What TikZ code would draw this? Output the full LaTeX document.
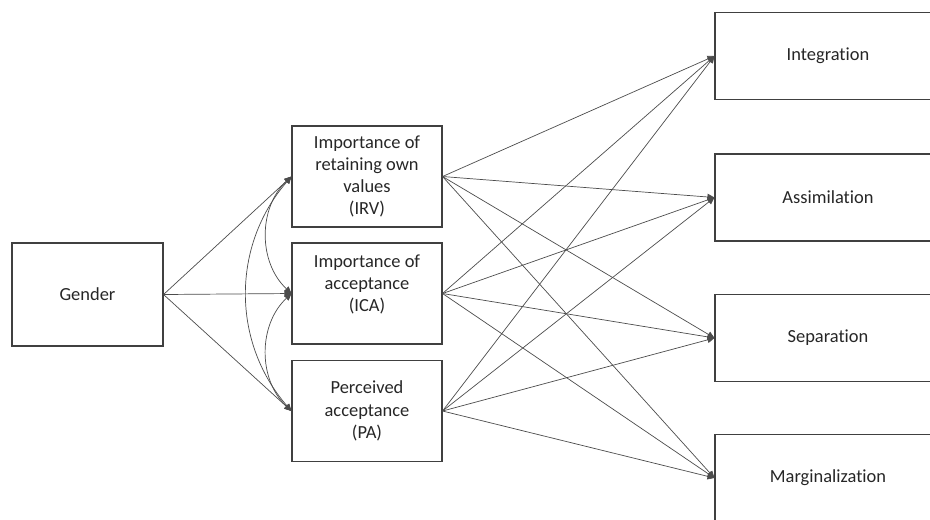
\documentclass[tikz,border=0pt]{standalone}
\usepackage{fontspec}
\setmainfont[Ligatures=NoCommon]{Carlito}
\usetikzlibrary{arrows.meta}

\begin{document}
\begin{tikzpicture}[
  box/.style={draw=black!75,line width=0.6pt,align=center,text=black!85,font=\fontsize{10.5}{12.6}\selectfont},
  midbox/.style={box,minimum width=3cm,minimum height=2.02cm},
  outbox/.style={box,minimum width=4.52cm,minimum height=1.74cm},
  link/.style={-{Triangle[length=4pt,width=3.6pt]},draw=black!70,line width=0.4pt},
  cov/.style={{Triangle[length=4pt,width=3.6pt]}-{Triangle[length=4pt,width=3.6pt]},draw=black!70,line width=0.4pt}]
\useasboundingbox (0,0) rectangle (18.6,-10.38);
% left and middle column
\node[box,minimum width=3.02cm,minimum height=2.06cm] (gender) at (1.75,-5.89) {Gender};
\node[midbox] (irv) at (7.34,-3.53) {Importance of\\retaining own\\values\\(IRV)};
\node[midbox,text depth=12pt] (ica) at (7.34,-5.87) {Importance of\\acceptance\\(ICA)};
\node[midbox] (pa) at (7.34,-8.22) {Perceived\\acceptance\\(PA)};
% outcomes
\node[outbox] (integ) at (16.56,-1.12) {Integration};
\node[outbox] (assim) at (16.56,-3.95) {Assimilation};
\node[outbox] (separ) at (16.56,-6.76) {Separation};
\node[outbox] (margi) at (16.56,-9.56) {Marginalization};
% paths
\draw[link] (gender.east) -- (irv.west);
\draw[link] (gender.east) -- (ica.west);
\draw[link] (gender.east) -- (pa.west);
\draw[cov] (irv.west) to[bend right=47] (ica.west);
\draw[cov] (ica.west) to[bend right=47] (pa.west);
\draw[cov] (irv.west) to[bend right=41] (pa.west);
\foreach \src in {irv,ica,pa}
  \foreach \dst in {integ,assim,separ,margi}
    \draw[link] (\src.east) -- (\dst.west);
\end{tikzpicture}
\end{document}
